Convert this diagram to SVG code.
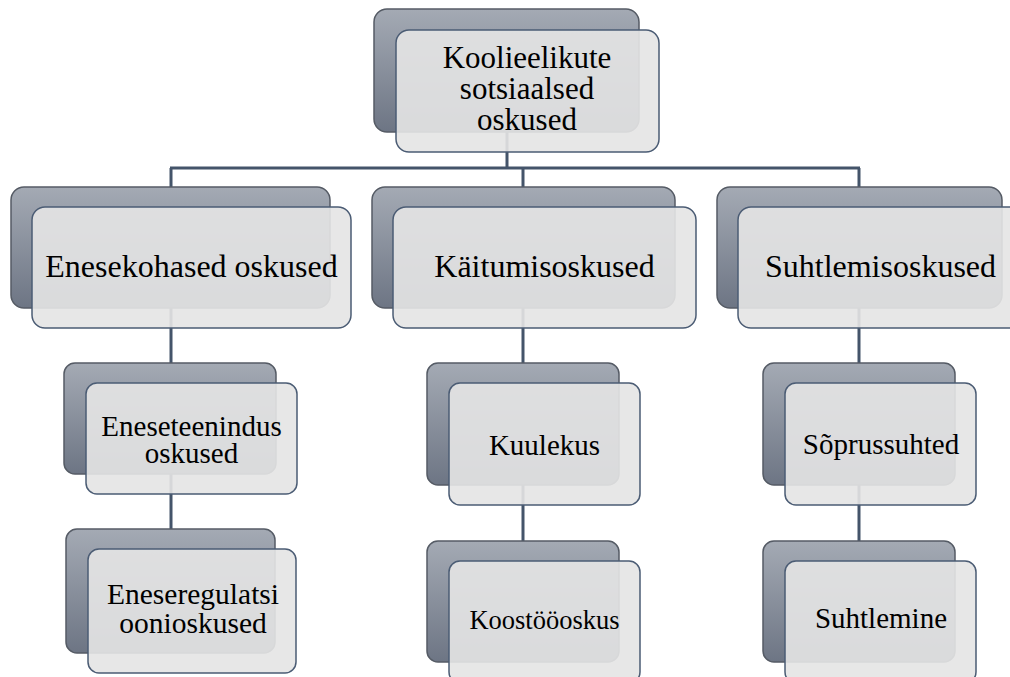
<svg xmlns="http://www.w3.org/2000/svg" width="1010" height="677" viewBox="0 0 1010 677">
<defs>
<linearGradient id="bg" x1="0" y1="0" x2="0" y2="1">
<stop offset="0" stop-color="#a4aab4"/>
<stop offset="1" stop-color="#6d7584"/>
</linearGradient>
</defs>
<style>
.back{fill:url(#bg);stroke:#555b65;stroke-width:1.5}
.front{fill:#e5e5e5;fill-opacity:0.91;stroke:#4b5c74;stroke-width:1.5}
.t{font-family:"Liberation Serif","Times New Roman",serif;fill:#000;text-anchor:middle}
.conn{fill:none;stroke:#44546a;stroke-width:3}
</style>
<rect width="1010" height="677" fill="#fff"/>
<g id="connectors">
<path class="conn" d="M507,132 V168 M170,168 H860 M171,168 V187 M523,168 V187 M859,168 V187"/>
<path class="conn" d="M171,308 V363 M523,308 V363 M859,308 V363"/>
<path class="conn" d="M171,474 V529 M523,485 V541 M859,485 V541"/>
</g>
<g id="n_root">
<rect class="back" x="374" y="9" width="265" height="123" rx="13"/>
<rect class="front" x="396" y="30" width="263" height="122" rx="13"/>
<text class="t" font-size="31"><tspan x="527" y="68">Koolieelikute</tspan><tspan x="527" y="99">sotsiaalsed</tspan><tspan x="527" y="130">oskused</tspan></text>
</g>
<g id="n_enesekohased">
<rect class="back" x="11" y="187" width="319" height="121" rx="13"/>
<rect class="front" x="32" y="207" width="319" height="121" rx="13"/>
<text class="t" font-size="32" x="191.5" y="277">Enesekohased oskused</text>
</g>
<g id="n_kaitumis">
<rect class="back" x="372" y="187" width="303" height="121" rx="13"/>
<rect class="front" x="393" y="207" width="303" height="121" rx="13"/>
<text class="t" font-size="32" x="544.5" y="277">Käitumisoskused</text>
</g>
<g id="n_suhtlemis">
<rect class="back" x="717" y="187" width="285" height="121" rx="13"/>
<rect class="front" x="738" y="207" width="285" height="121" rx="13"/>
<text class="t" font-size="32" x="880.5" y="277">Suhtlemisoskused</text>
</g>
<g id="n_eneseteenindus">
<rect class="back" x="64" y="363" width="212" height="111" rx="11"/>
<rect class="front" x="86" y="383" width="211" height="111" rx="11"/>
<text class="t" font-size="29"><tspan x="191.5" y="436">Eneseteenindus</tspan><tspan x="191.5" y="463">oskused</tspan></text>
</g>
<g id="n_eneseregulatsi">
<rect class="back" x="66" y="529" width="209" height="124" rx="11"/>
<rect class="front" x="88" y="549" width="208" height="124" rx="11"/>
<text class="t" font-size="29.5"><tspan x="193" y="604">Eneseregulatsi</tspan><tspan x="193" y="633">oonioskused</tspan></text>
</g>
<g id="n_kuulekus">
<rect class="back" x="427" y="363" width="192" height="122" rx="11"/>
<rect class="front" x="449" y="383" width="191" height="122" rx="11"/>
<text class="t" font-size="29" x="544.5" y="455">Kuulekus</text>
</g>
<g id="n_koostoo">
<rect class="back" x="427" y="541" width="192" height="121" rx="11"/>
<rect class="front" x="449" y="561" width="191" height="122" rx="11"/>
<text class="t" font-size="26.5" x="544.5" y="629">Koostööoskus</text>
</g>
<g id="n_soprussuhted">
<rect class="back" x="763" y="363" width="192" height="122" rx="11"/>
<rect class="front" x="785" y="383" width="191" height="122" rx="11"/>
<text class="t" font-size="29" x="881" y="454">Sõprussuhted</text>
</g>
<g id="n_suhtlemine">
<rect class="back" x="763" y="541" width="192" height="121" rx="11"/>
<rect class="front" x="785" y="561" width="191" height="122" rx="11"/>
<text class="t" font-size="29" x="881" y="628">Suhtlemine</text>
</g>
</svg>
